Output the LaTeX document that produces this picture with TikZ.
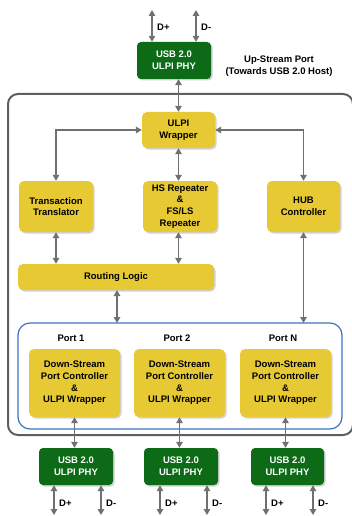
\documentclass[tikz,border=0pt]{standalone}
\usepackage{fontspec}
\setmainfont{Liberation Sans}
\usetikzlibrary{arrows.meta,shadows,calc}
\definecolor{phygreen}{HTML}{0D6A17}
\definecolor{blkyellow}{HTML}{E7CA33}
\definecolor{arrgray}{HTML}{707070}
\definecolor{framegray}{HTML}{5E5E5E}
\definecolor{portblue}{HTML}{3F72C2}
\begin{document}
\begin{tikzpicture}[x=1pt,y=-1pt,
  every node/.style={font=\fontsize{9.5}{11.7}\selectfont\bfseries, align=center, inner sep=0pt},
  yblock/.style={rectangle, rounded corners=5pt, fill=blkyellow, text=black,
     drop shadow={shadow xshift=1.5pt, shadow yshift=-1.5pt, fill=black!18, opacity=1}},
  gblock/.style={rectangle, rounded corners=4pt, fill=phygreen, text=white,
     drop shadow={shadow xshift=1.5pt, shadow yshift=-1.5pt, fill=black!18, opacity=1}},
  conn/.style={arrgray, line width=1.4pt, {Triangle[length=6pt,width=6.5pt]}-{Triangle[length=6pt,width=6.5pt]}},
  dlabel/.style={anchor=west, text=black}
]
\useasboundingbox (0,0) rectangle (351,516);

% outer frame
\draw[framegray, line width=2pt, rounded corners=10pt] (8,94) rectangle (353,435);
% ports frame
\draw[portblue, line width=1.2pt, rounded corners=12pt] (18,323) rectangle (342,429);
\coordinate (portsN) at (180,323);

% top PHY
\node[gblock, minimum width=74pt, minimum height=37pt] (phyTop) at (174,60.5) {USB 2.0\\ULPI PHY};
\node (upText) at (279,66.5) {Up-Stream Port\\(Towards USB 2.0 Host)};

% blocks
\node[yblock, minimum width=73pt, minimum height=36pt] (ulpi) at (178.5,130) {ULPI\\Wrapper};
\node[yblock, minimum width=74pt, minimum height=51pt] (tt) at (56,206.5) {Transaction\\Translator};
\node[yblock, minimum width=74pt, minimum height=51pt] (hs) at (180,206.5) {HS Repeater\\\&\\FS/LS\\Repeater};
\node[yblock, minimum width=73pt, minimum height=51pt] (hub) at (303.5,206.5) {HUB\\Controller};
\node[yblock, minimum width=196pt, minimum height=26pt] (routing) at (116,277) {Routing Logic};

% ports
\node (p1) at (71,338) {Port 1};
\node (p2) at (177,338) {Port 2};
\node (pN) at (283,338) {Port N};
\node[yblock, minimum width=91pt, minimum height=68pt] (ds1) at (74.5,383) {Down-Stream\\Port Controller\\\&\\ULPI Wrapper};
\node[yblock, minimum width=91pt, minimum height=68pt] (ds2) at (179.5,383) {Down-Stream\\Port Controller\\\&\\ULPI Wrapper};
\node[yblock, minimum width=91pt, minimum height=68pt] (ds3) at (285.5,383) {Down-Stream\\Port Controller\\\&\\ULPI Wrapper};

% bottom PHYs
\node[gblock, minimum width=74pt, minimum height=37pt] (phy1) at (76,466.5) {USB 2.0\\ULPI PHY};
\node[gblock, minimum width=74pt, minimum height=37pt] (phy2) at (181,466.5) {USB 2.0\\ULPI PHY};
\node[gblock, minimum width=73pt, minimum height=37pt] (phy3) at (287.5,466.5) {USB 2.0\\ULPI PHY};

% top D+/D-
\coordinate (tdp) at (152,10);
\coordinate (tdm) at (196,10);
\draw[conn] (tdp) -- (tdp |- phyTop.north);
\draw[conn] (tdm) -- (tdm |- phyTop.north);
\node[dlabel] (tdpl) at (157,27) {D+};
\node[dlabel] (tdml) at (201,27) {D-};

% internal connectors
\draw[conn] (ulpi.north) -- (ulpi.north |- phyTop.south);
\draw[conn] (ulpi.west) -| (tt.north);
\draw[conn] (ulpi.east) -| (hub.north);
\draw[conn] (ulpi.south) -- (ulpi.south |- hs.north);
\draw[conn] (tt.south) -- (tt.south |- routing.north);
\draw[conn] (ulpi.south |- hs.south) -- (ulpi.south |- routing.north);
\coordinate (rx) at (117,290);
\draw[conn] (rx) -- (rx |- portsN);
\draw[conn] (hub.south) -- (hub.south |- portsN);

\draw[conn] (ds1.south) -- (ds1.south |- phy1.north);
\draw[conn] (ds2.south) -- (ds2.south |- phy2.north);
\draw[conn] (ds3.south) -- (ds3.south |- phy3.north);

% bottom D+/D-
\foreach \p/\a/\b in {phy1/54/101, phy2/160/207, phy3/266/313}{
  \coordinate (\p dp) at (\a,515);
  \coordinate (\p dm) at (\b,515);
  \draw[conn] (\p dp |- \p.south) -- (\p dp);
  \draw[conn] (\p dm |- \p.south) -- (\p dm);
  \node[dlabel] at (\a+5,503) {D+};
  \node[dlabel] at (\b+5,503) {D-};
}
\end{tikzpicture}
\end{document}
